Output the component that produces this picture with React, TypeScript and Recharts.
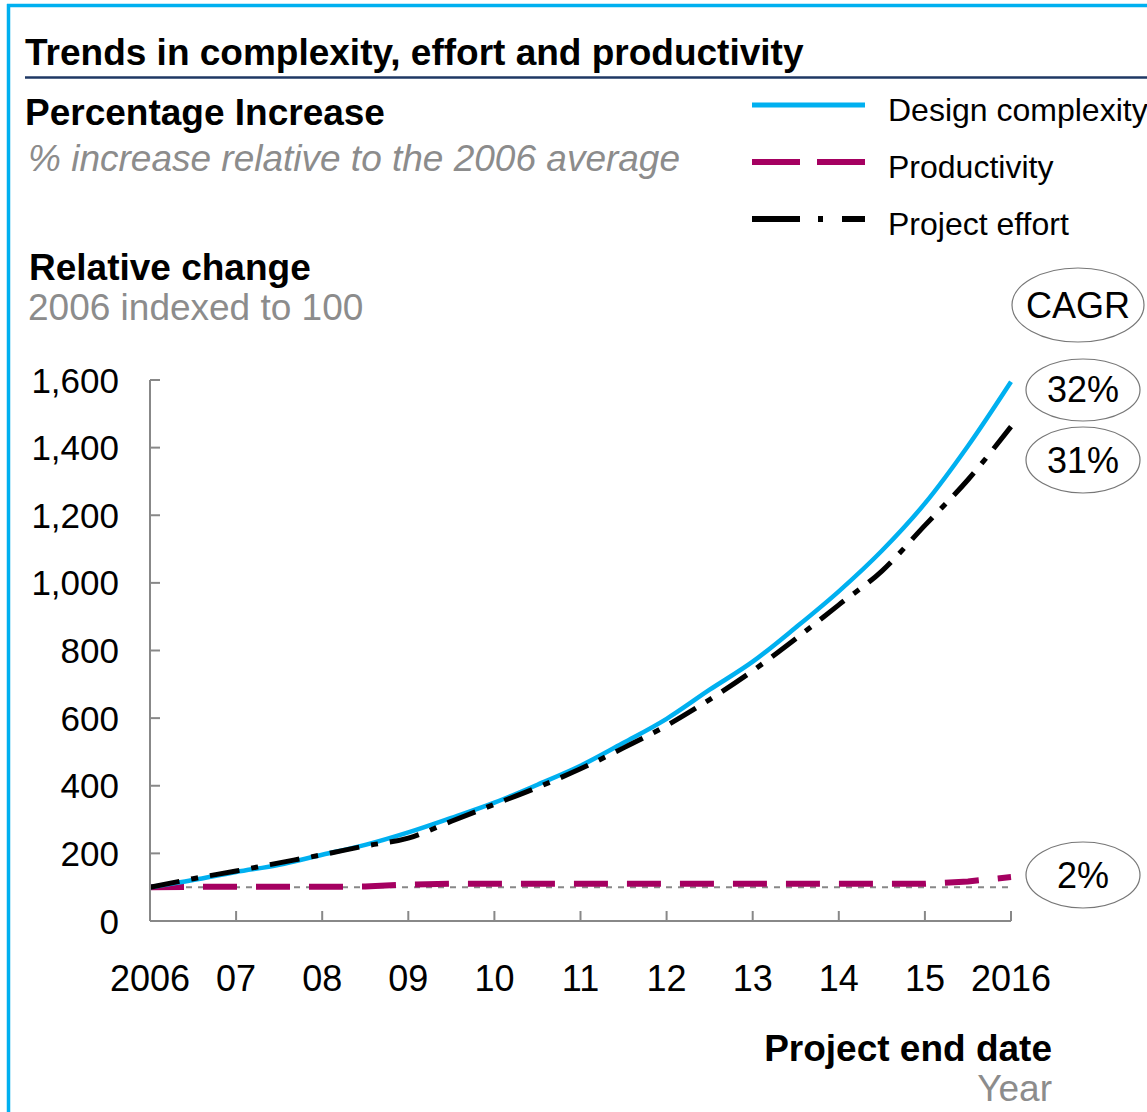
import React from "react";
import { LineChart, Line, XAxis, YAxis, ReferenceLine } from "recharts";

const years = [2006, 2006.5, 2007, 2007.5, 2008, 2008.5, 2009, 2009.5, 2010, 2010.5, 2011, 2011.5, 2012, 2012.5, 2013, 2013.5, 2014, 2014.5, 2015, 2015.5, 2016];
const designComplexity = [100, 121, 145, 166, 196, 225, 262, 305, 350, 403, 459, 527, 598, 684, 767, 868, 975, 1095, 1235, 1405, 1595];
const projectEffort = [100, 125, 148, 172, 196, 222, 245, 295, 345, 395, 450, 512, 578, 655, 740, 835, 935, 1035, 1170, 1305, 1462];
const productivity = [100, 101, 101, 101, 101, 102, 108, 110, 110, 110, 110, 110, 110, 110, 110, 110, 110, 110, 110, 117, 130];

const xTicks = [2006, 2007, 2008, 2009, 2010, 2011, 2012, 2013, 2014, 2015, 2016];
const xTickLabels = ["2006", "07", "08", "09", "10", "11", "12", "13", "14", "15", "2016"];
const yTicks = [0, 200, 400, 600, 800, 1000, 1200, 1400, 1600];

const seriesNames = ["Design complexity", "Productivity", "Project effort"];
const cagrLabels = ["32%", "31%", "2%"];

const data = years.map((y, i) => ({
  year: y,
  design: designComplexity[i],
  effort: projectEffort[i],
  prod: productivity[i],
}));

const FONT = "'Liberation Sans', Arial, sans-serif";
const AXIS = "#888888";
const BLUE = "#00B0F0";
const MAGENTA = "#A50061";

const XTick = (props: any) => {
  const { x, y, payload } = props;
  const idx = xTicks.indexOf(payload.value);
  return (
    <g>
      <line x1={x} y1={y} x2={x} y2={y - 10} stroke={AXIS} strokeWidth={2} />
      <text x={x} y={y + 70} textAnchor="middle" fontSize={36} fontFamily={FONT} fill="#000">
        {idx >= 0 ? xTickLabels[idx] : payload.value}
      </text>
    </g>
  );
};

const YTick = (props: any) => {
  const { x, y, payload } = props;
  return (
    <g>
      <line x1={x} y1={y} x2={x + 10} y2={y} stroke={AXIS} strokeWidth={2} />
      <text x={x - 31} y={y + 12.5} textAnchor="end" fontSize={35} fontFamily={FONT} fill="#000">
        {Number(payload.value).toLocaleString("en-US")}
      </text>
    </g>
  );
};

export default function App() {
  return (
    <div style={{ position: "absolute", left: 0, top: 0, width: 1147, height: 1112, background: "#fff" }}>
      <LineChart
        width={1147}
        height={1112}
        data={data}
        margin={{ top: 380, right: 136, bottom: 131, left: 30 }}
      >
        <XAxis
          dataKey="year"
          type="number"
          domain={[2006, 2016]}
          ticks={xTicks}
          interval={0}
          height={60}
          tickSize={0}
          tickMargin={0}
          tickLine={false}
          axisLine={{ stroke: AXIS, strokeWidth: 2 }}
          tick={XTick}
        />
        <YAxis
          type="number"
          domain={[0, 1600]}
          ticks={yTicks}
          interval={0}
          width={120}
          tickSize={0}
          tickMargin={0}
          tickLine={false}
          axisLine={{ stroke: AXIS, strokeWidth: 2 }}
          tick={YTick}
        />
        <ReferenceLine y={100} stroke={AXIS} strokeWidth={2} strokeDasharray="6 6" />
        <Line dataKey="prod" stroke={MAGENTA} strokeWidth={6} strokeDasharray="34 19" dot={false} isAnimationActive={false} type="linear" />
        <Line dataKey="design" stroke={BLUE} strokeWidth={4.5} dot={false} isAnimationActive={false} type="monotone" />
        <Line dataKey="effort" stroke="#000" strokeWidth={5} strokeDasharray="30 12 7 12" dot={false} isAnimationActive={false} type="monotone" />
      </LineChart>
      <svg
        width={1147}
        height={1112}
        style={{ position: "absolute", left: 0, top: 0, pointerEvents: "none" }}
        fontFamily={FONT}
      >
        <line x1={7} y1={5.5} x2={1147} y2={5.5} stroke={BLUE} strokeWidth={3.5} />
        <line x1={8.5} y1={4} x2={8.5} y2={1112} stroke={BLUE} strokeWidth={3.5} />
        <line x1={25} y1={77.5} x2={1147} y2={77.5} stroke="#1F3864" strokeWidth={2.5} />

        <text x={25} y={65} fontSize={37} fontWeight="bold" fill="#000">Trends in complexity, effort and productivity</text>
        <text x={25} y={125} fontSize={37} fontWeight="bold" fill="#000">Percentage Increase</text>
        <text x={28} y={171} fontSize={37} fontStyle="italic" fill="#8C8C8C">% increase relative to the 2006 average</text>
        <text x={29} y={280} fontSize={37} fontWeight="bold" fill="#000">Relative change</text>
        <text x={28} y={320} fontSize={37} fill="#8C8C8C">2006 indexed to 100</text>
        <text x={1052} y={1061} fontSize={37} fontWeight="bold" fill="#000" textAnchor="end">Project end date</text>
        <text x={1052} y={1101} fontSize={37} fill="#8C8C8C" textAnchor="end">Year</text>

        <line x1={752} y1={105} x2={865} y2={105} stroke={BLUE} strokeWidth={5} />
        <line x1={752} y1={162} x2={865} y2={162} stroke={MAGENTA} strokeWidth={6} strokeDasharray="48 17" />
        <line x1={752} y1={219} x2={865} y2={219} stroke="#000" strokeWidth={6} strokeDasharray="48 18 5 19 30" />
        <text x={888} y={120.5} fontSize={32} fill="#000">{seriesNames[0]}</text>
        <text x={888} y={177.5} fontSize={32} fill="#000">{seriesNames[1]}</text>
        <text x={888} y={234.5} fontSize={32} fill="#000">{seriesNames[2]}</text>

        <ellipse cx={1078} cy={305} rx={66} ry={37} fill="#fff" stroke="#777" strokeWidth={1.2} />
        <text x={1078} y={318} fontSize={36} textAnchor="middle" fill="#000">CAGR</text>
        <ellipse cx={1083} cy={390} rx={57} ry={31} fill="#fff" stroke="#777" strokeWidth={1.2} />
        <text x={1083} y={402} fontSize={36} textAnchor="middle" fill="#000">{cagrLabels[0]}</text>
        <ellipse cx={1083} cy={460} rx={57} ry={33} fill="#fff" stroke="#777" strokeWidth={1.2} />
        <text x={1083} y={473} fontSize={36} textAnchor="middle" fill="#000">{cagrLabels[1]}</text>
        <ellipse cx={1083} cy={875} rx={57} ry={33} fill="#fff" stroke="#777" strokeWidth={1.2} />
        <text x={1083} y={888} fontSize={36} textAnchor="middle" fill="#000">{cagrLabels[2]}</text>
      </svg>
    </div>
  );
}
